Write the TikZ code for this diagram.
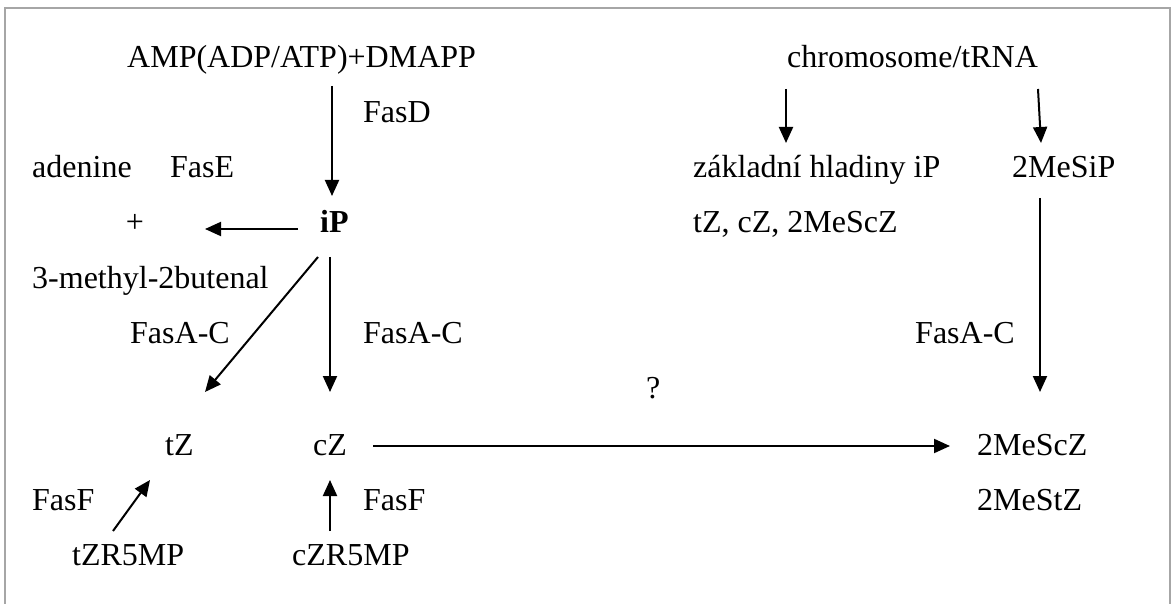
\documentclass[tikz,border=0pt]{standalone}
\usepackage{fontspec}
\setmainfont{Liberation Serif}
\usetikzlibrary{arrows.meta}
\begin{document}
\begin{tikzpicture}[x=1pt,y=-1pt,
  txt/.style={anchor=base west,inner sep=0,font=\fontsize{32}{38}\selectfont},
  arr/.style={line width=2pt,-{Triangle[length=16pt,width=14pt]}},
  frameline/.style={draw=black!35,line width=2pt}]
\useasboundingbox (0,0) rectangle (1173,604);
% frame
\coordinate (fbl) at (5,604);
\coordinate (ftl) at (5,8);
\coordinate (ftr) at (1170,8);
\coordinate (fbr) at (1170,604);
\draw[frameline] (fbl) -- (ftl) -- (ftr) -- (fbr);
% texts
\node[txt] (amp) at (127,68) {AMP(ADP/ATP)+DMAPP};
\node[txt] (chrom) at (787,68) {chromosome/tRNA};
\node[txt] (fasd) at (363,123) {FasD};
\node[txt] (aden) at (32,178) {adenine};
\node[txt] (fase) at (170,178) {FasE};
\node[txt] (zakl) at (693,178) {základní hladiny iP};
\node[txt] (mesip) at (1012,178) {2MeSiP};
\node[txt,anchor=base] (plus) at (135,233) {+};
\node[txt,font=\fontsize{32}{38}\selectfont\bfseries] (ip) at (320,233) {iP};
\node[txt] (tzcz) at (693,233) {tZ, cZ, 2MeScZ};
\node[txt] (meth) at (32,288) {3-methyl-2butenal};
\node[txt] (fasac1) at (130,343) {FasA-C};
\node[txt] (fasac2) at (363,343) {FasA-C};
\node[txt] (fasac3) at (915,343) {FasA-C};
\node[txt] (q) at (646,398) {?};
\node[txt] (tz) at (165,455) {tZ};
\node[txt] (cz) at (313,455) {cZ};
\node[txt] (mescz) at (977,455) {2MeScZ};
\node[txt] (fasf1) at (32,510) {FasF};
\node[txt] (fasf2) at (363,510) {FasF};
\node[txt] (mestz) at (977,510) {2MeStZ};
\node[txt] (tzr) at (72,565) {tZR5MP};
\node[txt] (czr) at (292,565) {cZR5MP};
% arrow end points
\coordinate (ampS) at (332,86);   \coordinate (ipN) at (332,196);
\coordinate (chS1) at (786,89);   \coordinate (zaN) at (786,143);
\coordinate (chS2) at (1038,89);  \coordinate (msN) at (1041,143);
\coordinate (ipW) at (298,229);   \coordinate (plusE) at (205,229);
\coordinate (ipSW) at (318,257);  \coordinate (tzN) at (205,392);
\coordinate (ipS) at (330,257);   \coordinate (czN) at (330,392);
\coordinate (msS) at (1040,198);  \coordinate (msczN) at (1040,392);
\coordinate (czE) at (373,446);   \coordinate (msczW) at (950,446);
\coordinate (tzrN) at (113,531);  \coordinate (tzS) at (150,480);
\coordinate (czrN) at (330,531);  \coordinate (czS) at (330,480);
% arrows
\draw[arr] (ampS) -- (ipN);
\draw[arr] (chS1) -- (zaN);
\draw[arr] (chS2) -- (msN);
\draw[arr] (ipW) -- (plusE);
\draw[arr] (ipSW) -- (tzN);
\draw[arr] (ipS) -- (czN);
\draw[arr] (msS) -- (msczN);
\draw[arr] (czE) -- (msczW);
\draw[arr] (tzrN) -- (tzS);
\draw[arr] (czrN) -- (czS);
\end{tikzpicture}
\end{document}
